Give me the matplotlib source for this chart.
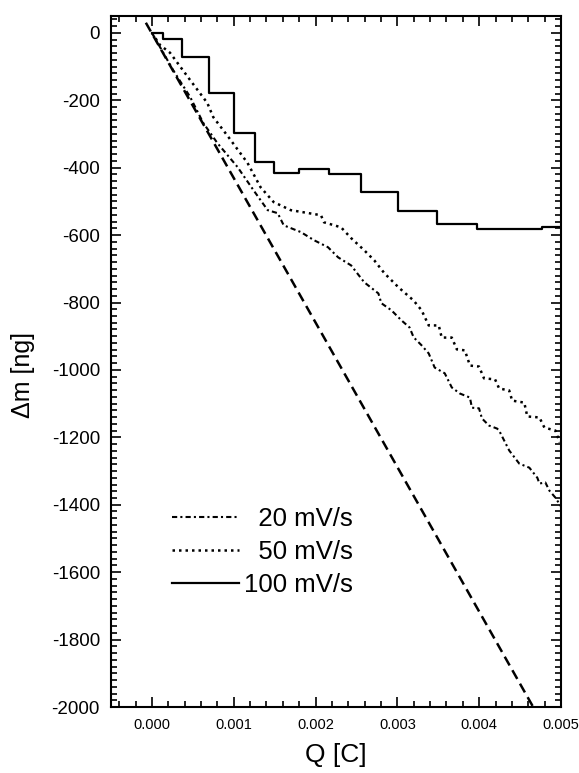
import numpy as np
import matplotlib
matplotlib.use("Agg")
import matplotlib.pyplot as plt
from matplotlib.ticker import MultipleLocator

plt.rcParams['font.family'] = ['Liberation Sans', 'DejaVu Sans']
plt.rcParams['axes.unicode_minus'] = False

# 100 mV/s : stepwise curve (Q edges [C], mass change [ng])
q_100 = [0.0, 0.000135, 0.00037, 0.0007, 0.001, 0.00126, 0.00149, 0.0018,
         0.00217, 0.00256, 0.00301, 0.00349, 0.00397, 0.00477, 0.0050]
m_100 = [0, -18, -71, -178, -297, -383, -416, -404, -419, -473, -529,
         -568, -583, -577, -577]

# 50 mV/s
q_50 = [0.0, 0.0000984, 0.000221, 0.000467, 0.000677, 0.00075, 0.000935,
        0.001169, 0.001328, 0.001488, 0.001697, 0.002066, 0.002103, 0.002312,
        0.002435, 0.002595, 0.002718, 0.002841, 0.003014, 0.003198, 0.003296,
        0.003383, 0.003506, 0.003542, 0.003665, 0.003727, 0.003825, 0.003887,
        0.003998, 0.004059, 0.004194, 0.004244, 0.004367, 0.004403, 0.004551,
        0.004588, 0.004736, 0.004797, 0.004932, 0.004985]
m_50 = [0, -36, -59, -140, -208, -250, -309, -386, -458, -502, -526, -541,
        -562, -577, -609, -645, -675, -713, -755, -794, -823, -868, -868,
        -904, -904, -939, -942, -987, -990, -1025, -1028, -1055, -1061, -1091,
        -1097, -1138, -1141, -1171, -1180, -1215]

# 20 mV/s
q_20 = [0.0, 0.000258, 0.000467, 0.000627, 0.0008, 0.001046, 0.001242,
        0.001415, 0.001538, 0.001611, 0.00182, 0.00198, 0.002152, 0.002276,
        0.002435, 0.002595, 0.002768, 0.002804, 0.002927, 0.00305, 0.003149,
        0.003198, 0.003296, 0.003383, 0.003456, 0.003579, 0.003665, 0.003764,
        0.003887, 0.003911, 0.003998, 0.004034, 0.00412, 0.004219, 0.004244,
        0.004367, 0.00449, 0.004613, 0.004711, 0.004736, 0.004809, 0.004858,
        0.004932, 0.005]
m_20 = [0, -110, -190, -267, -327, -398, -467, -526, -535, -571, -591, -615,
        -636, -666, -690, -740, -773, -802, -823, -853, -874, -903, -927,
        -951, -993, -1010, -1052, -1070, -1082, -1112, -1114, -1144, -1165,
        -1174, -1180, -1239, -1278, -1290, -1320, -1337, -1334, -1358, -1379,
        -1405]

# straight reference line
q_lin = [-0.000074, 0.00466]
m_lin = [30, -2000]

fig = plt.figure(figsize=(5.79, 7.73), dpi=100)
ax = fig.add_axes([111/579, 1-707/773, (561-111)/579, (707-16)/773])

ax.plot(q_lin, m_lin, color='black', lw=1.8, linestyle=(0, (4, 2.2)))
l20, = ax.plot(q_20, m_20, color='black', lw=1.5, linestyle=(0, (2.5, 1.5, 1, 1.5)),
               label='\u200720 mV/s')
l50, = ax.plot(q_50, m_50, color='black', lw=1.8, linestyle=(0, (1, 1.6)),
               label='\u200750 mV/s')
l100, = ax.step(q_100, m_100, where='post', color='black', lw=1.6,
                label='100 mV/s')

ax.set_xlim(-0.0005, 0.005)
ax.set_ylim(-2000, 50)

ax.xaxis.set_major_locator(MultipleLocator(0.001))
ax.xaxis.set_minor_locator(MultipleLocator(0.0002))
ax.yaxis.set_major_locator(MultipleLocator(200))
ax.yaxis.set_minor_locator(MultipleLocator(20))
ax.set_xticks(np.arange(0, 0.0051, 0.001))
ax.set_xticklabels(['0.000', '0.001', '0.002', '0.003', '0.004', '0.005'])

ax.tick_params(which='both', direction='in', top=True, right=True, width=1.2)
ax.tick_params(which='major', length=7)
ax.tick_params(which='minor', length=4)
ax.tick_params(axis='x', labelsize=10.5, pad=8)
ax.tick_params(axis='y', labelsize=13.5, pad=8)
for s in ax.spines.values():
    s.set_linewidth(1.5)

ax.set_xlabel('Q [C]', fontsize=19)
ax.set_ylabel('\u0394m [ng]', fontsize=18)
ax.xaxis.set_label_coords(0.5, -0.052)
ax.yaxis.set_label_coords(-0.168, 0.48)

ax.legend(handles=[l20, l50, l100], loc='upper left',
          bbox_to_anchor=(0.136, 0.289), frameon=False, fontsize=18.5,
          handlelength=2.6, handletextpad=0.2, labelspacing=0.35,
          borderpad=0, borderaxespad=0)

fig.savefig('out.png', dpi=100)
